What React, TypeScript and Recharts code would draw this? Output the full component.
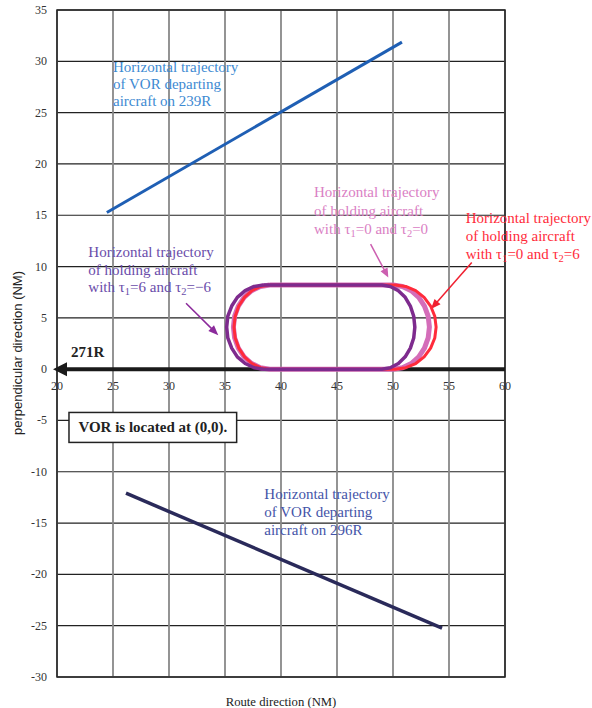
import React from 'react';
import {
  ComposedChart,
  XAxis,
  YAxis,
  CartesianGrid,
  Scatter,
  ReferenceLine,
  ReferenceDot,
  ReferenceArea,
} from 'recharts';

// ---------- axes ----------
const xTicks = [20, 25, 30, 35, 40, 45, 50, 55, 60];
const yTicks = [-30, -25, -20, -15, -10, -5, 0, 5, 10, 15, 20, 25, 30, 35];

// ---------- series (NM) ----------
const departing239R = [
  { x: 24.45, y: 15.27 },
  { x: 50.8, y: 31.87 },
];

const departing296R = [
  { x: 26.16, y: -12.09 },
  { x: 54.38, y: -25.24 },
];

// holding, tau1=0, tau2=0
const holdingT0_0 = [
  { x: 39.0, y: 8.2 }, { x: 44.5, y: 8.2 }, { x: 50.0, y: 8.2 },
  { x: 50.84, y: 8.06 }, { x: 51.63, y: 7.65 }, { x: 52.3, y: 7.0 }, { x: 52.81, y: 6.15 },
  { x: 53.14, y: 5.16 }, { x: 53.25, y: 4.1 }, { x: 53.14, y: 3.04 }, { x: 52.81, y: 2.05 },
  { x: 52.3, y: 1.2 }, { x: 51.63, y: 0.55 }, { x: 50.84, y: 0.14 }, { x: 50.0, y: 0.0 },
  { x: 44.5, y: 0.0 }, { x: 39.0, y: 0.0 },
  { x: 38.16, y: 0.14 }, { x: 37.38, y: 0.55 }, { x: 36.7, y: 1.2 }, { x: 36.19, y: 2.05 },
  { x: 35.86, y: 3.04 }, { x: 35.75, y: 4.1 }, { x: 35.86, y: 5.16 }, { x: 36.19, y: 6.15 },
  { x: 36.7, y: 7.0 }, { x: 37.38, y: 7.65 }, { x: 38.16, y: 8.06 }, { x: 39.0, y: 8.2 },
];

// holding, tau1=0, tau2=6
const holdingT0_6 = [
  { x: 39.0, y: 8.2 }, { x: 44.6, y: 8.2 }, { x: 50.2, y: 8.2 },
  { x: 51.14, y: 8.06 }, { x: 52.03, y: 7.65 }, { x: 52.78, y: 7.0 }, { x: 53.36, y: 6.15 },
  { x: 53.73, y: 5.16 }, { x: 53.85, y: 4.1 }, { x: 53.73, y: 3.04 }, { x: 53.36, y: 2.05 },
  { x: 52.78, y: 1.2 }, { x: 52.03, y: 0.55 }, { x: 51.14, y: 0.14 }, { x: 50.2, y: 0.0 },
  { x: 44.6, y: 0.0 }, { x: 39.0, y: 0.0 },
  { x: 38.17, y: 0.14 }, { x: 37.4, y: 0.55 }, { x: 36.74, y: 1.2 }, { x: 36.23, y: 2.05 },
  { x: 35.91, y: 3.04 }, { x: 35.8, y: 4.1 }, { x: 35.91, y: 5.16 }, { x: 36.23, y: 6.15 },
  { x: 36.74, y: 7.0 }, { x: 37.4, y: 7.65 }, { x: 38.17, y: 8.06 }, { x: 39.0, y: 8.2 },
];

// holding, tau1=6, tau2=-6
const holdingT6_m6 = [
  { x: 38.45, y: 8.2 }, { x: 43.7, y: 8.2 }, { x: 49.0, y: 8.2 },
  { x: 49.76, y: 8.06 }, { x: 50.48, y: 7.65 }, { x: 51.09, y: 7.0 }, { x: 51.55, y: 6.15 },
  { x: 51.85, y: 5.16 }, { x: 51.95, y: 4.1 }, { x: 51.85, y: 3.04 }, { x: 51.55, y: 2.05 },
  { x: 51.09, y: 1.2 }, { x: 50.48, y: 0.55 }, { x: 49.76, y: 0.14 }, { x: 49.0, y: 0.0 },
  { x: 43.7, y: 0.0 }, { x: 38.45, y: 0.0 },
  { x: 37.6, y: 0.14 }, { x: 36.8, y: 0.55 }, { x: 36.1, y: 1.2 }, { x: 35.6, y: 2.05 },
  { x: 35.25, y: 3.04 }, { x: 35.15, y: 4.1 }, { x: 35.25, y: 5.16 }, { x: 35.6, y: 6.15 },
  { x: 36.1, y: 7.0 }, { x: 36.8, y: 7.65 }, { x: 37.6, y: 8.06 }, { x: 38.45, y: 8.2 },
];

// ---------- annotation texts ----------
const text239R = ['Horizontal trajectory', 'of VOR departing', 'aircraft on 239R'];
const text296R = ['Horizontal trajectory', 'of VOR departing', 'aircraft on 296R'];
const textT0_0 = ['Horizontal trajectory', 'of holding aircraft', 'with τ_1=0 and τ_2=0'];
const textT0_6 = ['Horizontal trajectory', 'of holding aircraft', 'with τ_1=0 and τ_2=6'];
const textT6_m6 = ['Horizontal trajectory', 'of holding aircraft', 'with τ_1=6 and τ_2=−6'];
const routeLabel = '271R';
const vorNote = 'VOR is located at (0,0).';

// ---------- annotation anchors (data units) ----------
const arrowRoute = [{ x: 60, y: 0 }, { x: 20, y: 0 }];
const arrowT0_0 = [{ x: 48.0, y: 12.18 }, { x: 49.58, y: 8.94 }];
const arrowT0_6 = [{ x: 57.03, y: 10.4 }, { x: 53.39, y: 5.85 }];
const arrowT6_m6 = [{ x: 31.52, y: 6.43 }, { x: 34.4, y: 3.31 }];

const SERIF = '"Liberation Serif", "Times New Roman", Times, serif';
const SANS = '"Liberation Sans", Arial, sans-serif';
const ANN_FS = 15;

const renderRich = (s: string) => {
  const parts = s.split(/_(\d)/);
  const out: any[] = [];
  let shifted = false;
  parts.forEach((p, i) => {
    if (i % 2 === 1) {
      out.push(
        <tspan key={i} dy={3} style={{ fontSize: 10.5 }}>
          {p}
        </tspan>
      );
      shifted = true;
    } else if (p) {
      out.push(
        <tspan key={i} dy={shifted ? -3 : undefined}>
          {p}
        </tspan>
      );
      shifted = false;
    }
  });
  return out;
};

const makeText = (lines: string[], color: string, lh = 17.8) => (p: any) => (
  <text x={p.cx} y={p.cy} style={{ fontFamily: SERIF, fontSize: ANN_FS }} fill={color}>
    {lines.map((l, i) => (
      <tspan key={i} x={p.cx} y={p.cy + i * lh}>
        {renderRich(l)}
      </tspan>
    ))}
  </text>
);

const makeArrow =
  (color: string, lw: number, headLen: number, headHalf: number, tipExtend = 0) =>
  (p: any) => {
    const x1 = +p.x1, y1 = +p.y1, x2 = +p.x2, y2 = +p.y2;
    const dx = x2 - x1, dy = y2 - y1;
    const L = Math.hypot(dx, dy) || 1;
    const ux = dx / L, uy = dy / L;
    const tx = x2 + ux * tipExtend, ty = y2 + uy * tipExtend;
    const bx = tx - ux * headLen, by = ty - uy * headLen;
    const px = -uy, py = ux;
    return (
      <g>
        <line x1={x1} y1={y1} x2={bx + ux} y2={by + uy} stroke={color} strokeWidth={lw} />
        <polygon
          points={`${tx},${ty} ${bx + px * headHalf},${by + py * headHalf} ${bx - px * headHalf},${by - py * headHalf}`}
          fill={color}
        />
      </g>
    );
  };

const noShape = () => <g />;
const emptyTick = () => <g />;

const xTickLabel = (v: number) => (p: any) => (
  <text
    x={p.cx}
    y={p.cy + 17}
    textAnchor="middle"
    dominantBaseline="central"
    style={{ fontFamily: SERIF, fontSize: 12 }}
    fill="#333"
  >
    {v}
  </text>
);

const hLine = (p: any) => (
  <line key={p.key} x1={p.x1} y1={p.y1} x2={p.x2} y2={p.y2} stroke="#222" strokeWidth={1.2} />
);
const vLine = (p: any) => (
  <line key={p.key} x1={p.x1} y1={p.y1} x2={p.x2} y2={p.y2} stroke="#888" strokeWidth={1.8} />
);

const YTick = (p: any) => (
  <text
    x={p.x}
    y={p.y}
    textAnchor="end"
    dominantBaseline="central"
    style={{ fontFamily: SERIF, fontSize: 12 }}
    fill="#333"
  >
    {p.payload.value}
  </text>
);

export default function App() {
  return (
    <div style={{ position: 'absolute', left: 0, top: 0, background: '#fff' }}>
      <ComposedChart width={592} height={708} margin={{ top: 10, right: 87, bottom: 0, left: 12 }}>
        <CartesianGrid
          horizontal={hLine}
          vertical={vLine}
          horizontalValues={yTicks}
          verticalValues={xTicks}
        />
        <XAxis
          type="number"
          dataKey="x"
          domain={[20, 60]}
          ticks={xTicks}
          interval={0}
          allowDataOverflow
          tick={emptyTick}
          tickLine={false}
          axisLine={false}
          height={31}
          label={{
            content: (p: any) => {
              const vb = p.viewBox || {};
              return (
                <text
                  x={vb.x + vb.width / 2}
                  y={vb.y + 24.5}
                  textAnchor="middle"
                  dominantBaseline="central"
                  style={{ fontFamily: SERIF, fontSize: 12.7 }}
                  fill="#222"
                >
                  Route direction (NM)
                </text>
              );
            },
          }}
        />
        <YAxis
          type="number"
          dataKey="y"
          domain={[-30, 35]}
          ticks={yTicks}
          interval={0}
          allowDataOverflow
          width={45}
          tickLine={false}
          axisLine={false}
          tickMargin={4}
          tick={YTick}
          label={{
            content: (p: any) => {
              const vb = p.viewBox || {};
              const cx = vb.x + 5;
              const cy = 353;
              return (
                <text
                  x={cx}
                  y={cy}
                  transform={`rotate(-90 ${cx} ${cy})`}
                  textAnchor="middle"
                  dominantBaseline="central"
                  style={{ fontFamily: SANS, fontSize: 13 }}
                  fill="#222"
                >
                  perpendicular direction (NM)
                </text>
              );
            },
          }}
        />
        <ReferenceArea
          x1={20}
          x2={60}
          y1={-30}
          y2={35}
          fill="none"
          fillOpacity={0}
          stroke="#222"
          strokeWidth={1.5}
          ifOverflow="visible"
        />

        <Scatter data={departing239R} line={{ stroke: '#1f5fb4', strokeWidth: 3 }} fill="#1f5fb4" shape={noShape} isAnimationActive={false} />
        <Scatter data={departing296R} line={{ stroke: '#2a2a5a', strokeWidth: 3.5 }} fill="#2a2a5a" shape={noShape} isAnimationActive={false} />
        <Scatter data={holdingT0_0} line={{ stroke: '#d46db9', strokeWidth: 5, strokeLinejoin: 'round' }} fill="#d46db9" shape={noShape} isAnimationActive={false} />
        <Scatter data={holdingT0_6} line={{ stroke: '#ff2b3b', strokeWidth: 3, strokeLinejoin: 'round' }} fill="#ff2b3b" shape={noShape} isAnimationActive={false} />
        <Scatter data={holdingT6_m6} line={{ stroke: '#7e2b8e', strokeWidth: 3.5, strokeLinejoin: 'round' }} fill="#7e2b8e" shape={noShape} isAnimationActive={false} />

        <ReferenceLine segment={arrowRoute} ifOverflow="visible" shape={makeArrow('#1a1a1a', 4, 14, 7, 4)} />
        <ReferenceLine segment={arrowT0_0} ifOverflow="visible" shape={makeArrow('#cc5fb0', 1.5, 9, 4)} />
        <ReferenceLine segment={arrowT0_6} ifOverflow="visible" shape={makeArrow('#f02030', 1.5, 10, 4)} />
        <ReferenceLine segment={arrowT6_m6} ifOverflow="visible" shape={makeArrow('#8b2a9b', 1.5, 10, 4)} />

        {xTicks.map((t) => (
          <ReferenceDot key={t} x={t} y={0} r={0} ifOverflow="visible" shape={xTickLabel(t)} />
        ))}

        <ReferenceDot x={25} y={29} r={0} ifOverflow="visible" shape={makeText(text239R, '#3d8ad2', 17.2)} />
        <ReferenceDot x={38.51} y={-12.67} r={0} ifOverflow="visible" shape={makeText(text296R, '#4454a8', 18)} />
        <ReferenceDot x={42.95} y={16.73} r={0} ifOverflow="visible" shape={makeText(textT0_0, '#da80c4', 18.3)} />
        <ReferenceDot x={56.49} y={14.23} r={0} ifOverflow="visible" shape={makeText(textT0_6, '#ff2b3b', 17.7)} />
        <ReferenceDot x={22.8} y={10.95} r={0} ifOverflow="visible" shape={makeText(textT6_m6, '#6a4caa', 17.8)} />

        <ReferenceDot
          x={21.25}
          y={1.17}
          r={0}
          ifOverflow="visible"
          shape={(p: any) => (
            <text x={p.cx} y={p.cy} style={{ fontFamily: SERIF, fontSize: ANN_FS, fontWeight: 'bold' }} fill="#222">
              {routeLabel}
            </text>
          )}
        />

        <ReferenceArea
          x1={21.07}
          x2={36.04}
          y1={-4.22}
          y2={-7.14}
          ifOverflow="visible"
          shape={(p: any) => (
            <g>
              <rect x={p.x} y={p.y} width={p.width} height={p.height} fill="#fff" stroke="#222" strokeWidth={1.5} />
              <text
                x={p.x + p.width / 2}
                y={p.y + p.height / 2}
                textAnchor="middle"
                dominantBaseline="central"
                style={{ fontFamily: SERIF, fontSize: ANN_FS, fontWeight: 'bold' }}
                fill="#222"
              >
                {vorNote}
              </text>
            </g>
          )}
        />
      </ComposedChart>
    </div>
  );
}
